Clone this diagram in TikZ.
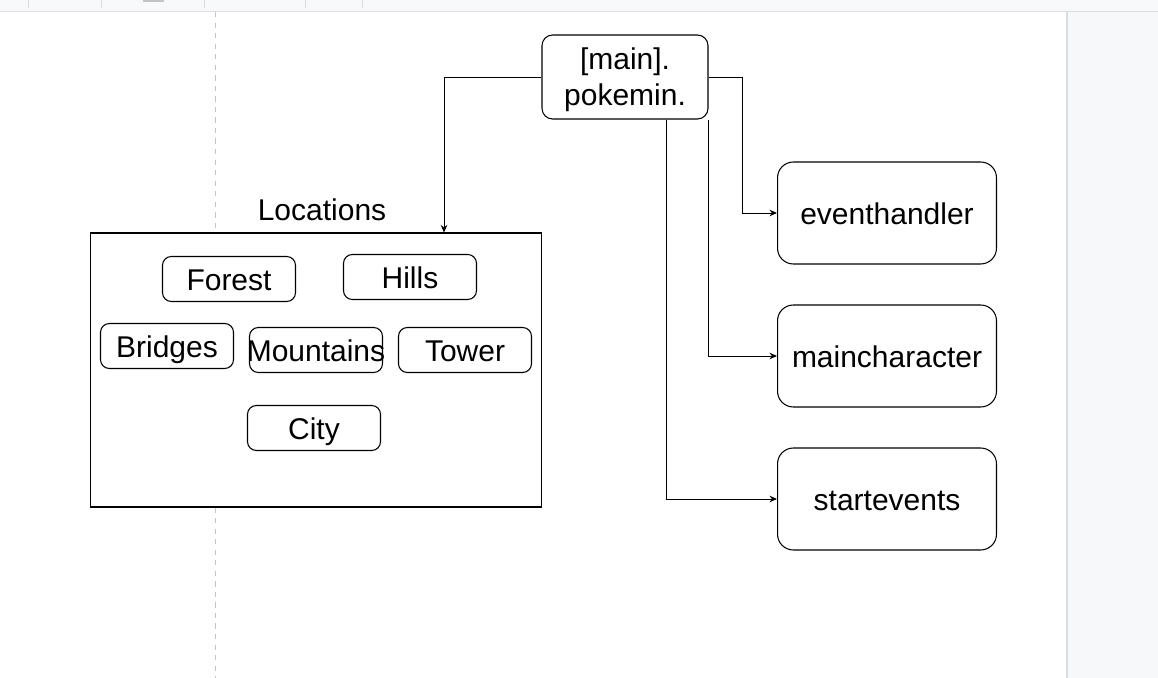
\documentclass[tikz,border=0pt]{standalone}
\usepackage{fontspec}
\setmainfont{Liberation Sans}
\usetikzlibrary{positioning,calc,arrows,arrows.meta}

\definecolor{barfill}{HTML}{F8F9FA}
\definecolor{barline}{HTML}{DADCE0}
\definecolor{panelfill}{HTML}{F7F8FA}
\definecolor{guide}{HTML}{C4C4C4}

\begin{document}
\begin{tikzpicture}[x=0.02cm, y=-0.02cm]
	\useasboundingbox (0,0) rectangle (1158,678);

	% page background of the editor
	\fill [barfill] (0,0) rectangle (1158,11);
	\draw [barline, line width=0.6pt] (0,11.5) -- (1158,11.5);
	\foreach \sx in {28,101,204,305,362}
		\draw [barline, line width=0.4pt] (\sx,0) -- (\sx,8);
	\fill [guide] (143,0) rectangle (164,2);
	\fill [panelfill] (1067,12) rectangle (1158,678);
	\draw [barline, line width=0.8pt] (1067,12) -- (1067,678);
	\draw [guide, line width=0.5pt, dash pattern=on 3pt off 3pt] (215,12) -- (215,678);

	\begin{scope}[xscale=1, yscale=1]
		\tikzstyle{every node}=[align=center, inner sep=0pt, font=\fontsize{17.07pt}{20.5pt}\selectfont]
		\tikzstyle{oneline}=[text height=12.6pt, text depth=0pt]
		\tikzstyle{place}=[draw, fill=white, oneline, rounded corners=5pt, line width=0.6pt, minimum width=2.66cm, minimum height=0.9cm]
		\tikzstyle{module}=[draw, fill=white, oneline, rounded corners=9pt, line width=0.6pt, minimum width=4.38cm, minimum height=2.04cm]

		\node [draw, fill=white, rounded corners=6pt, line width=0.6pt, minimum width=3.32cm, minimum height=1.68cm] (main) at (625, 77) {\rule{0pt}{15.8pt}[main].\\pokemin.};

		\node [oneline] (loctitle) at (322, 209) {Locations};
		\node [draw, fill=white, line width=0.6pt, minimum width=9.04cm, minimum height=5.48cm] (loc) at (316, 370) {};

		\node [place] (forest) at (229, 279) {Forest};
		\node [place] (hills)  at (410, 277) {Hills};
		\node [place] (brid)   at (167, 346) {Bridges};
		\node [place] (mtn)    at (316, 350) {\makebox[0pt]{Mountains}};
		\node [place] (tow)    at (465, 350) {Tower};
		\node [place] (city)   at (314, 428) {City};

		\node [module] (evh) at (887, 213) {eventhandler};
		\node [module] (mch) at (887, 356) {maincharacter};
		\node [module] (sev) at (887, 499) {startevents};

		\tikzstyle{link}=[line width=0.5pt, -{Stealth[length=1.5mm, width=1.3mm]}]
		\draw [link] (main.west) -| ($(loc.north)+(128,0)$);
		\draw [link] (main.east) -- ++(34,0) |- (evh.west);
		\draw [link] (main.south east) |- (mch.west);
		\draw [link] ($(main.south)+(41,0)$) |- (sev.west);
	\end{scope}
\end{tikzpicture}
\end{document}
